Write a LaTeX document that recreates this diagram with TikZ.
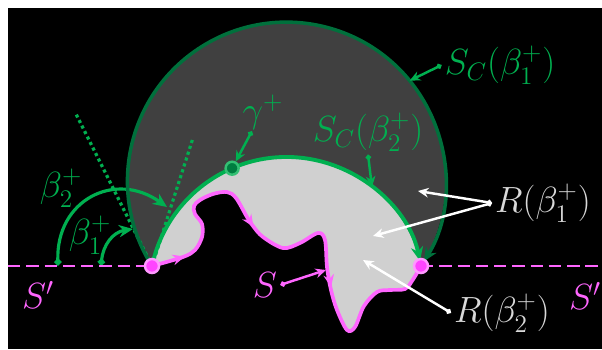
\documentclass[tikz,border=0pt]{standalone}
\usepackage{amsmath, amssymb}
\usepackage{tikz}
\usetikzlibrary{calc, arrows.meta}

\definecolor{gdark}{HTML}{00703C}
\definecolor{glight}{HTML}{00B050}
\definecolor{magS}{HTML}{FF66FF}
\definecolor{magdot}{HTML}{FF44FF}
\definecolor{pinkrim}{HTML}{FF99FF}
\definecolor{darkfill}{HTML}{404040}
\definecolor{lightfill}{HTML}{D0D0D0}
\definecolor{rtext}{HTML}{D9D9D9}

\newcommand{\curveS}{plot[smooth, tension=0.55] coordinates {(3.04,1.66) (3.66,1.84) (3.90,1.98) (4.04,2.24) (4.04,2.50) (3.90,2.70) (3.88,2.86) (4.00,2.98) (4.26,3.10) (4.54,3.14) (4.72,3.02) (4.94,2.64) (5.06,2.46) (5.26,2.24) (5.66,2.02) (6.00,2.12) (6.36,2.32) (6.50,2.18) (6.54,1.64) (6.62,1.18) (6.74,0.78) (6.94,0.38) (7.10,0.44) (7.28,0.86) (7.54,1.14) (7.80,1.18) (8.10,1.20) (8.24,1.36) (8.42,1.66)}}

\tikzset{
  lab/.style={inner sep=1.5pt, font=\huge},
  ptr/.style={line width=1.4pt, {Diamond[length=3.5pt,width=3.5pt]}-{Stealth[length=6pt,width=5.5pt]}},
  angarrow/.style={glight, line width=1.8pt, {Diamond[length=4.5pt,width=4.5pt]}-{Stealth[length=8pt,width=7pt]}},
  tangent/.style={glight, line width=1.8pt, dash pattern=on 1.8pt off 1.7pt},
  sline/.style={magS, line width=2.1pt},
  stip/.style={magS, line width=2.1pt, -{Stealth[length=7pt,width=6pt]}},
  mdot/.style={circle, fill=magdot, draw=pinkrim, line width=1.4pt, minimum size=0.28cm, inner sep=0pt},
  gdot/.style={circle, fill=gdark!80!glight, draw=glight!80!white, line width=1.4pt, minimum size=0.26cm, inner sep=0pt},
}

\begin{document}
\begin{tikzpicture}
  \useasboundingbox (0,0) rectangle (12.04,6.98);
  \fill[white] (0,0) rectangle (12.04,6.98);
  \fill[black] (0.16,0) rectangle (12.04,6.82);

  \coordinate (oc) at (5.73,3.358);
  \coordinate (ic) at (5.73,1.09);
  \coordinate (pL) at (3.04,1.66);
  \coordinate (pR) at (8.42,1.66);
  \coordinate (w) at (0.16,1.66);
  \coordinate (e) at (12.04,1.66);

  % regions
  \fill[darkfill] (pL) arc[start angle=212.26, end angle=-32.26, radius=3.18]
    arc[start angle=11.96, end angle=168.04, radius=2.75] -- cycle;
  \fill[lightfill] \curveS arc[start angle=11.96, end angle=168.04, radius=2.75] -- cycle;

  % tangents and angles
  \coordinate (d1) at (1.50,4.74);
  \coordinate (d2) at (3.86,4.22);
  \draw[tangent] (pL) -- (d1);
  \draw[tangent] (pL) -- (d2);
  \coordinate (a2s) at (1.16,1.66);
  \coordinate (a2e) at (3.34,2.84);
  \coordinate (a1s) at (2.02,1.66);
  \coordinate (a1e) at (2.66,2.40);
  \draw[angarrow] (a2s) .. controls (1.12,2.98) and (2.30,3.58) .. (a2e);
  \draw[angarrow] (a1s) .. controls (2.06,2.08) and (2.26,2.34) .. (a1e);

  % boundaries
  \draw[gdark, line width=2pt, -{Stealth[length=8pt,width=7pt]}, shorten >=3pt]
    (pL) arc[start angle=212.26, end angle=-32.26, radius=3.18];
  \draw[glight, line width=2.2pt, -{Stealth[length=8pt,width=7pt]}, shorten >=3pt]
    (pL) arc[start angle=168.04, end angle=11.96, radius=2.75];
  \draw[sline] \curveS;
  \draw[stip] (3.56,1.81) -- (3.70,1.85);
  \draw[stip] (4.98,2.58) -- (5.07,2.44);
  \draw[stip] (6.59,1.40) -- (6.62,1.24);

  \draw[magS, line width=1.7pt, dash pattern=on 7pt off 3.4pt] (w) -- (pL);
  \draw[magS, line width=1.7pt, dash pattern=on 7pt off 3.4pt] (pR) -- (e);

  \node[mdot] (dL) at (pL) {};
  \node[mdot] (dR) at (pR) {};
  \node[gdot] (gam) at ($(ic)+(113.3:2.75)$) {};

  % labels
  \node[lab, glight] (glab) at (5.26,4.74) {$\gamma^+$};
  \node[lab, glight] (sc1) at (10.0,5.68) {$S_C(\beta_1^+)$};
  \node[lab, glight] (sc2) at (7.36,4.34) {$S_C(\beta_2^+)$};
  \node[lab, glight] (b2) at (1.22,3.22) {$\beta_2^+$};
  \node[lab, glight] (b1) at (1.80,2.28) {$\beta_1^+$};
  \node[lab, rtext] (rb1) at (10.86,2.92) {$R(\beta_1^+)$};
  \node[lab, rtext] (rb2) at (10.04,0.72) {$R(\beta_2^+)$};
  \node[lab, magS] (slab) at (5.30,1.28) {$S$};
  \node[lab, magS] (spl) at (0.76,1.08) {$S'$};
  \node[lab, magS] (spr) at (11.70,1.06) {$S'$};

  % pointers
  \coordinate (gt) at (5.04,4.36);
  \coordinate (t1) at ($(oc)+(39.2:3.18)$);
  \coordinate (t2) at ($(ic)+(51.6:2.75)$);
  \coordinate (r1a) at (8.36,3.16);
  \coordinate (r1b) at (7.46,2.26);
  \coordinate (r2a) at (7.26,1.78);
  \coordinate (st) at (6.52,1.58);
  \draw[ptr, glight] (gt) -- (gam);
  \draw[ptr, glight] (sc1.west) -- (t1);
  \draw[ptr, glight] (sc2.south) -- (t2);
  \draw[ptr, white] (rb1.west) -- (r1a);
  \draw[ptr, white] (rb1.west) -- (r1b);
  \draw[ptr, white] (rb2.west) -- (r2a);
  \draw[ptr, magS] (slab.east) -- (st);
\end{tikzpicture}
\end{document}
